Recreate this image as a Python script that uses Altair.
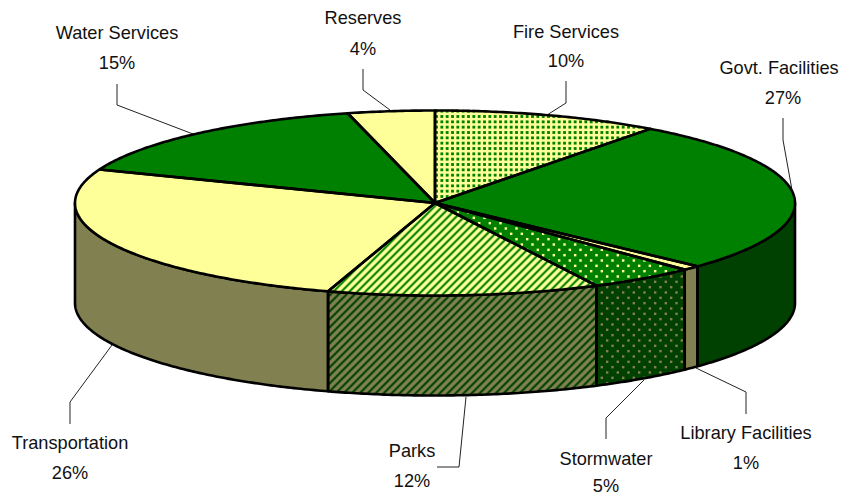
import math
import altair as alt
import pandas as pd

# Chart values
slices = ["Fire Services", "Govt. Facilities", "Library Facilities", "Stormwater",
          "Parks", "Transportation", "Water Services", "Reserves"]
shares = [10.2, 26.8, 0.8, 4.8, 12.2, 26.1, 15.2, 3.9]
percent_labels = ["10%", "27%", "1%", "5%", "12%", "26%", "15%", "4%"]
top_colors = ["#FFFF99", "#008000", "#FFFF99", "#008000", "#FFFF99", "#FFFF99", "#008000", "#FFFF99"]
wall_colors = ["#808050", "#004000", "#808050", "#004000", "#808050", "#808050", "#004000", "#808050"]
top_dot_colors = ["#008000", None, None, "#FFFF99", "#008000", None, None, None]
wall_dot_colors = [None, None, None, "#808050", "#004000", None, None, None]
patterns = ["fine", None, None, "sparse", "stripe", None, None, None]

# Label placement, in page pixels
label_x = [566, 779, 746, 606, 412, 70, 117, 363]
pct_x = [566, 783, 746, 606, 412, 70, 117, 363]
name_y = [33, 69, 434, 460, 452, 444, 34, 19]
pct_y = [62, 99, 464, 487, 482, 474, 64, 50]
leaders = [
    [(566, 81), (566, 103), (547, 115)],
    [(783, 118), (783, 140), (792, 190)],
    [(746, 414), (746, 392), (696, 368)],
    [(606, 439), (606, 418), (644, 380)],
    [(437, 467), (459, 467), (466, 397)],
    [(70, 424), (70, 402), (112, 345)],
    [(117, 84), (117, 105), (193, 134)],
    [(363, 69), (363, 90), (390, 110)],
]

# Pie geometry
W, H = 832, 489
CX, CY, RX, RY, DEPTH = 435, 203, 360, 92.5, 100
P = 8 / 6  # pattern unit
LATTICES = {
    "fine": ((4 * P, 0), (0, 4 * P)),
    "sparse": ((8 * P, 0), (4 * P, 4 * P)),
    "stripe": ((8, 0), (1, -1)),
}
DOT_SIZE = {"fine": 8, "sparse": 6, "stripe": 4}


def ell(t, dz=0):
    return CX + RX * math.sin(t), CY - RY * math.cos(t) + dz


def arc(a, b, dz=0):
    n = max(2, int(abs(b - a) / 0.01))
    return [ell(a + (b - a) * k / n, dz) for k in range(n + 1)]


def inside(x, y, poly):
    hit = False
    for (x1, y1), (x2, y2) in zip(poly, poly[1:] + poly[:1]):
        if (y1 > y) != (y2 > y) and x < x1 + (y - y1) * (x2 - x1) / (y2 - y1):
            hit = not hit
    return hit


def lattice(poly, kind):
    (ax, ay), (bx, by) = LATTICES[kind]
    xs = [p[0] for p in poly]
    ys = [p[1] for p in poly]
    out = []
    for j in range(-500, 501):
        for i in range(-400, 401):
            x, y = 4.5 + i * ax + j * bx, 4.5 + i * ay + j * by
            if min(xs) <= x <= max(xs) and min(ys) <= y <= max(ys) and inside(x, y, poly):
                out.append((x, y))
    return out


poly_rows, dot_rows, edge_rows = [], [], []


def add_poly(name, layer, pts, color, kind=None, dot=None):
    pts = pts + [pts[0]]
    for i, (x, y) in enumerate(pts):
        poly_rows.append(dict(id=f"{layer}-{name}", layer=layer, x=x, y=y, i=i, fill=color))
    if kind:
        for x, y in lattice(pts[:-1], kind):
            dot_rows.append(dict(layer=layer, x=x, y=y, fill=dot, size=DOT_SIZE[kind]))


cum = 0
for k, name in enumerate(slices):
    a = 2 * math.pi * cum / 100
    b = 2 * math.pi * (cum + shares[k]) / 100
    cum += shares[k]
    # wall: only the front half of the disc is visible
    lo, hi = max(a, math.pi / 2), min(b, 3 * math.pi / 2)
    if lo < hi:
        add_poly(name, "wall", arc(lo, hi) + arc(hi, lo, DEPTH), wall_colors[k], patterns[k], wall_dot_colors[k])
    add_poly(name, "top", [(CX, CY)] + arc(a, b), top_colors[k], patterns[k], top_dot_colors[k])

polys = pd.DataFrame(poly_rows)
dots = pd.DataFrame(dot_rows)

lead_rows = []
for k, line in enumerate(leaders):
    for i, (x, y) in enumerate(line):
        lead_rows.append(dict(id=slices[k], x=x, y=y, i=i))
lead = pd.DataFrame(lead_rows)

labels = pd.DataFrame(
    [dict(x=label_x[k], y=name_y[k], text=slices[k]) for k in range(len(slices))]
    + [dict(x=pct_x[k], y=pct_y[k], text=percent_labels[k]) for k in range(len(slices))]
)

xs = alt.X("x:Q", scale=alt.Scale(domain=[8, 8 + W], nice=False, zero=False), axis=None)
ys = alt.Y("y:Q", scale=alt.Scale(domain=[8 + H, 8], nice=False, zero=False), axis=None)


def fills(layer):
    return (
        alt.Chart(polys[polys.layer == layer])
        .mark_line(strokeWidth=0, filled=True, clip=False)
        .encode(xs, ys, order="i:Q", detail="id:N", fill=alt.Fill("fill:N", scale=None))
    )


def pattern(layer):
    return (
        alt.Chart(dots[dots.layer == layer])
        .mark_point(shape="square", filled=True, strokeWidth=0, opacity=1)
        .encode(xs, ys, fill=alt.Fill("fill:N", scale=None), size=alt.Size("size:Q", scale=None))
    )


def edges(layer):
    return (
        alt.Chart(polys[polys.layer == layer])
        .mark_line(color="#000000", strokeWidth=2.6, strokeJoin="round", strokeCap="round")
        .encode(xs, ys, order="i:Q", detail="id:N")
    )


leader_layer = (
    alt.Chart(lead)
    .mark_line(color="#222222", strokeWidth=1)
    .encode(xs, ys, order="i:Q", detail="id:N")
)
text_layer = (
    alt.Chart(labels)
    .mark_text(font="Liberation Sans", fontSize=18.2, color="#111111", baseline="middle", align="center")
    .encode(xs, ys, text="text:N")
)

chart = (
    alt.layer(leader_layer, fills("wall"), pattern("wall"), edges("wall"),
              fills("top"), pattern("top"), edges("top"), text_layer)
    .properties(width=W, height=H, padding=0, autosize=alt.AutoSizeParams(type="none"),
                background="#FFFFFF")
    .configure_view(stroke=None)
)
alt.data_transformers.disable_max_rows()
chart.save("out.html", embed_options={"renderer": "svg", "actions": False})
